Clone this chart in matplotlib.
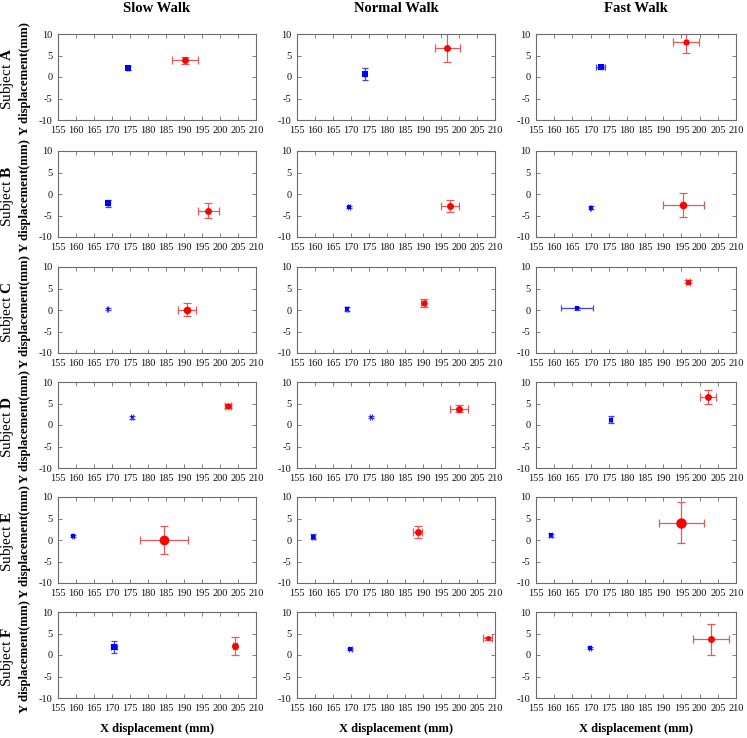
import matplotlib
matplotlib.use("Agg")
import matplotlib.pyplot as plt

plt.rcParams['font.family'] = ['Liberation Serif', 'DejaVu Serif']
plt.rcParams['mathtext.fontset'] = 'custom'
plt.rcParams['mathtext.rm'] = 'Liberation Serif'
plt.rcParams['mathtext.bf'] = 'Liberation Serif:bold'
plt.rcParams['axes.unicode_minus'] = False

conditions = ["Slow Walk", "Normal Walk", "Fast Walk"]
subjects = ["A", "B", "C", "D", "E", "F"]

# blue series: [subject][condition] -> x, y, xerr, yerr, marker size
blue_x = [[174.5, 174.0, 172.8], [169.0, 169.5, 170.0], [168.8, 169.0, 166.2],
          [175.5, 175.5, 175.5], [159.2, 159.5, 159.0], [170.5, 169.8, 169.8]]
blue_y = [[2.1, 0.8, 2.3], [-2.2, -3.0, -3.2], [0.2, 0.3, 0.4],
          [1.8, 1.9, 1.2], [1.0, 0.8, 1.1], [1.8, 1.4, 1.6]]
blue_xerr = [[0.3, 0.3, 1.2], [0.5, 0.3, 0.2], [0.2, 0.3, 4.4],
             [0.2, 0.2, 0.4], [0.2, 0.4, 0.3], [0.9, 0.4, 0.3]]
blue_yerr = [[0.4, 1.4, 0.5], [0.8, 0.3, 0.3], [0.3, 0.5, 0.4],
             [0.3, 0.3, 0.8], [0.2, 0.5, 0.4], [1.4, 0.3, 0.3]]
blue_size = [[4, 4, 5], [4, 3.5, 3], [2, 3, 3.5],
             [2, 2, 3], [2.5, 3, 3], [4, 3, 3]]

red_x = [[190.2, 196.8, 196.2], [196.8, 197.5, 195.5], [190.8, 190.2, 196.8],
         [202.2, 200.0, 202.3], [184.5, 188.5, 195.0], [204.2, 208.0, 203.2]]
red_y = [[3.9, 6.8, 8.2], [-3.9, -2.8, -2.5], [0.1, 1.7, 6.6],
         [4.4, 3.8, 6.6], [0.0, 1.8, 4.0], [2.1, 3.9, 3.7]]
red_xerr = [[3.6, 3.5, 3.6], [2.9, 2.6, 5.6], [2.5, 0.7, 0.5],
            [0.8, 2.5, 2.3], [6.6, 1.2, 6.3], [0.6, 1.2, 5.0]]
red_yerr = [[0.8, 3.4, 2.7], [1.7, 1.4, 2.8], [1.5, 0.9, 0.4],
            [0.5, 0.8, 1.6], [3.2, 1.4, 4.8], [2.2, 0.4, 3.6]]
red_size = [[5, 5, 4.5], [5, 5, 5.5], [5.5, 4.5, 4],
            [4.5, 5, 5], [7, 5, 7.5], [5, 3.5, 5]]

xticks = list(range(155, 211, 5))
yticks = [-10, -5, 0, 5, 10]

W, H = 747, 738
fig = plt.figure(figsize=(W / 100, H / 100), dpi=100)

lefts = [58, 297, 536]
widths = [198, 198, 200]
tops = [34, 151, 267, 382, 497, 612]
ax_h = 86

frame_col = '#6b6b6b'
for r, subj in enumerate(subjects):
    for c, cond in enumerate(conditions):
        ax = fig.add_axes([lefts[c] / W, 1 - (tops[r] + ax_h) / H, widths[c] / W, ax_h / H])
        ax.errorbar(blue_x[r][c], blue_y[r][c], xerr=blue_xerr[r][c], yerr=blue_yerr[r][c],
                    fmt='none', ecolor='#4040ff', elinewidth=0.9, capsize=2.5, capthick=0.9)
        ax.plot(blue_x[r][c], blue_y[r][c], 's', color='#0000ff', markersize=blue_size[r][c],
                markeredgewidth=0)
        ax.errorbar(red_x[r][c], red_y[r][c], xerr=red_xerr[r][c], yerr=red_yerr[r][c],
                    fmt='none', ecolor='#e35a5a', elinewidth=0.9, capsize=3, capthick=0.9)
        ax.plot(red_x[r][c], red_y[r][c], 'o', color='#ff0000', markersize=red_size[r][c],
                markeredgewidth=0)
        ax.set_xlim(155, 210)
        ax.set_ylim(-10, 10)
        ax.set_xticks(xticks)
        ax.set_yticks(yticks)
        ax.tick_params(direction='in', length=3, width=0.6, colors=frame_col,
                       labelcolor='#111111', labelsize=7.5, top=True, right=True, pad=4)
        for sp in ax.spines.values():
            sp.set_color(frame_col)
            sp.set_linewidth(0.8)
        if c == 0:
            yc = 1 - (tops[r] + ax_h / 2 + 2) / H
            fig.text(25 / W, yc, "Y displacement(mm)", rotation=90, ha='center', va='center',
                     fontsize=9.2, fontweight='bold')
            fig.text(8 / W, yc, "Subject $\\mathbf{%s}$" % subj,
                     rotation=90, ha='center', va='center', fontsize=11)
        if r == 0:
            fig.text((lefts[c] + widths[c] / 2) / W, 1 - 9 / H, cond, ha='center', va='center',
                     fontsize=10.5, fontweight='bold')
        if r == len(subjects) - 1:
            fig.text((lefts[c] + widths[c] / 2) / W, 1 - 729 / H, "X displacement (mm)",
                     ha='center', va='center', fontsize=9, fontweight='bold')

fig.savefig("out.png", dpi=100)
